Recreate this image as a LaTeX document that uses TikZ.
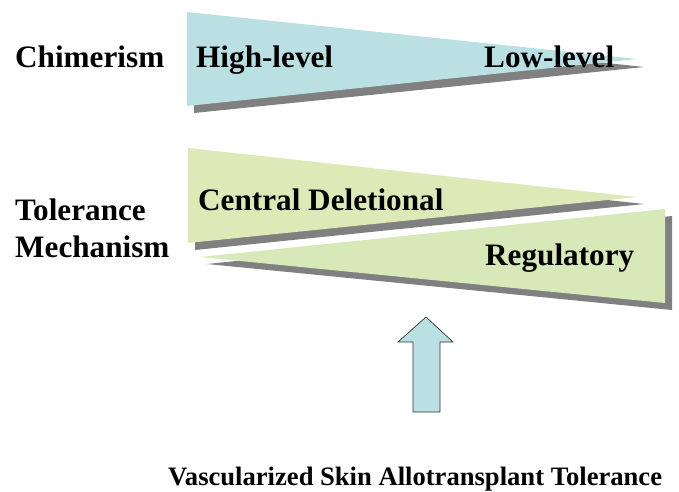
\documentclass[tikz,border=0pt]{standalone}
\usepackage{fontspec}
\setmainfont{Liberation Serif}
\begin{document}
\begin{tikzpicture}[x=1pt,y=-1pt,
  lbl/.style={anchor=base west,inner sep=0pt,font=\fontsize{31.2}{35}\selectfont\bfseries},
  shade/.style={fill=black!50,draw=none}]
\definecolor{chimblue}{HTML}{BAE0E3}
\definecolor{cdgreen}{HTML}{DDE9B6}
\definecolor{reggreen}{HTML}{D7E9B9}
\useasboundingbox (0,0) rectangle (679,491);

% chimerism wedge
\fill[shade] (194,19) -- (644,67) -- (194,113) -- cycle;
\fill[chimblue] (187,12) -- (637,59) -- (187,106) -- cycle;

% central deletional wedge
\fill[shade] (195,155) -- (644,204) -- (195,250) -- cycle;
\fill[cdgreen] (188,148) -- (637,197) -- (188,243) -- cycle;

% regulatory wedge
\fill[shade] (207,264) -- (672,216) -- (672,310) -- cycle;
\fill[reggreen] (200,257) -- (665,209) -- (665,303) -- cycle;

% upward arrow
\draw[fill=chimblue,draw=black!80,line width=0.7pt]
  (413,412) -- (413,342) -- (398,342) -- (426,317) -- (453,342) -- (440,342) -- (440,412) -- cycle;

% labels
\node[lbl] (chim) at (15,67) {Chimerism};
\node[lbl] (tol) at (15,220) {Tolerance};
\node[lbl] (mech) at (15,257) {Mechanism};
\node[lbl] (high) at (196,67) {High-level};
\node[lbl] (low) at (484,67) {Low-level};
\node[lbl] (cd) at (198,210) {Central Deletional};
\node[lbl] (reg) at (485,265) {Regulatory};
\node[lbl,font=\fontsize{26.6}{30}\selectfont\bfseries] (vsa) at (168,485) {Vascularized Skin Allotransplant Tolerance};
\end{tikzpicture}
\end{document}
